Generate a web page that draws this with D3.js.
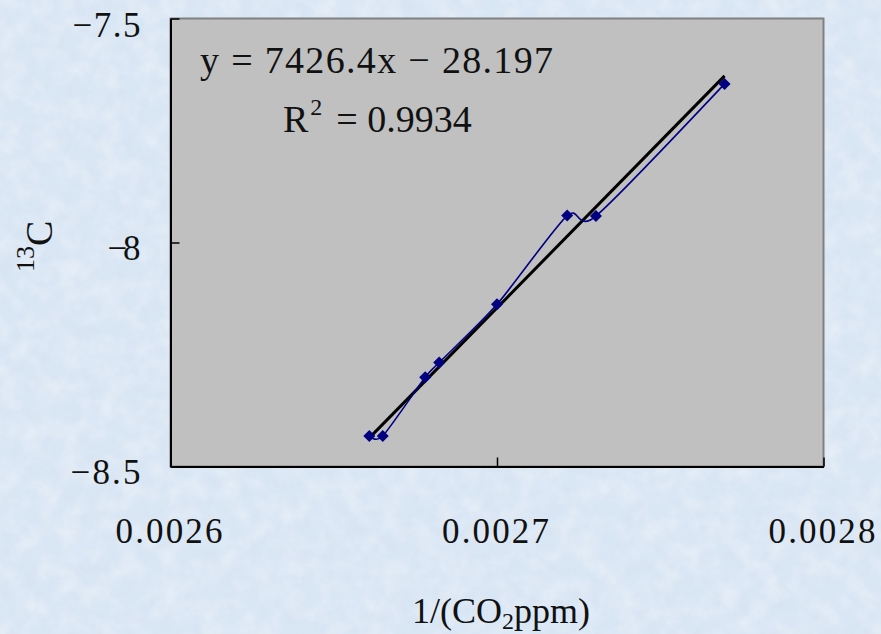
<!DOCTYPE html>
<html>
<head>
<meta charset="utf-8">
<script src="https://cdn.jsdelivr.net/npm/d3@7"></script>
<style>
  html, body { margin: 0; padding: 0; background: #d9e6f4; }
  svg { display: block; }
  text { font-family: "Liberation Serif", "DejaVu Serif", serif; fill: #111; }
</style>
</head>
<body>
<script>
// Measurements: inverse CO2 concentration vs. carbon-13 value
const xValues = [0.0026609, 0.0026650, 0.0026780, 0.0026823, 0.0027000, 0.0027215, 0.0027303, 0.0027697];
const yValues = [-8.432, -8.432, -8.301, -8.268, -8.138, -7.940, -7.941, -7.646];

// Axis ticks and their printed labels
const xTicks = [0.0026, 0.0027, 0.0028];
const xTickLabels = ["0.0026", "0.0027", "0.0028"];
const yTicks = [-7.5, -8, -8.5];
const yTickLabels = ["\u22127.5", "\u22128", "\u22128.5"];

// Linear fit reported on the chart
const fitSlope = 7426.4;
const fitIntercept = -28.197;
const rSquared = 0.9934;

const W = 881, H = 634;
const plot = { left: 170.5, right: 823.5, top: 18.5, bottom: 466.5 };

const svg = d3.select("body").append("svg")
  .attr("width", W).attr("height", H);

// Mottled light-blue backdrop
const defs = svg.append("defs");
const f1 = defs.append("filter").attr("id", "mottleLight")
  .attr("x", 0).attr("y", 0).attr("width", "100%").attr("height", "100%");
f1.append("feTurbulence").attr("type", "fractalNoise")
  .attr("baseFrequency", 0.05).attr("numOctaves", 3).attr("seed", 7);
f1.append("feColorMatrix").attr("type", "matrix")
  .attr("values", "0 0 0 0 1  0 0 0 0 1  0 0 0 0 1  1.4 0 0 0 -0.5");
const f2 = defs.append("filter").attr("id", "mottleDark")
  .attr("x", 0).attr("y", 0).attr("width", "100%").attr("height", "100%");
f2.append("feTurbulence").attr("type", "fractalNoise")
  .attr("baseFrequency", 0.08).attr("numOctaves", 2).attr("seed", 21);
f2.append("feColorMatrix").attr("type", "matrix")
  .attr("values", "0 0 0 0 0.66  0 0 0 0 0.72  0 0 0 0 0.82  1.4 0 0 0 -0.6");

svg.append("rect").attr("width", W).attr("height", H).attr("fill", "#d9e6f4");
svg.append("rect").attr("width", W).attr("height", H).attr("filter", "url(#mottleLight)").attr("opacity", 0.45);
svg.append("rect").attr("width", W).attr("height", H).attr("filter", "url(#mottleDark)").attr("opacity", 0.35);

const x = d3.scaleLinear().domain([0.0026, 0.0028]).range([plot.left, plot.right]);
const y = d3.scaleLinear().domain([-8.5, -7.5]).range([plot.bottom, plot.top]);

// Plot area
svg.append("rect")
  .attr("x", plot.left).attr("y", plot.top)
  .attr("width", plot.right - plot.left).attr("height", plot.bottom - plot.top)
  .attr("fill", "#c0c0c0").attr("stroke", "#808080").attr("stroke-width", 2);

// Axes with inward ticks
const xAxis = svg.append("g")
  .attr("transform", `translate(0,${plot.bottom})`)
  .call(d3.axisBottom(x).tickValues(xTicks).tickSizeInner(-9).tickSizeOuter(0)
    .tickFormat((d, i) => xTickLabels[i]));
const yAxis = svg.append("g")
  .attr("transform", `translate(${plot.left},0)`)
  .call(d3.axisLeft(y).tickValues(yTicks).tickSizeInner(-9).tickSizeOuter(0)
    .tickFormat((d, i) => yTickLabels[i]));

[xAxis, yAxis].forEach(g => {
  g.select(".domain").attr("stroke", "#000").attr("stroke-width", 2);
  g.selectAll(".tick line").attr("stroke", "#000").attr("stroke-width", 1.5);
});

xAxis.selectAll(".tick text")
  .attr("y", 76).attr("dy", null)
  .attr("font-size", 35).attr("fill", "#111")
  .attr("text-anchor", "middle")
  .attr("textLength", 107).attr("lengthAdjust", "spacing")
  .attr("x", -2);

const yLabelLen = [68, 33, 70];
const yLabelBase = [18, 16.5, 16.5];
yAxis.selectAll(".tick text")
  .attr("x", -30).attr("dy", null)
  .attr("y", (d, i) => yLabelBase[i])
  .attr("font-size", 35).attr("fill", "#111")
  .attr("text-anchor", "end")
  .attr("textLength", (d, i) => yLabelLen[i]).attr("lengthAdjust", "spacing");

// Fitted straight line across the data range
const xExt = d3.extent(xValues);
svg.append("line")
  .attr("x1", x(xExt[0])).attr("y1", y(fitSlope * xExt[0] + fitIntercept))
  .attr("x2", x(xExt[1])).attr("y2", y(fitSlope * xExt[1] + fitIntercept))
  .attr("stroke", "#000").attr("stroke-width", 3);

// Smoothed connecting line through the measurements
const pts = xValues.map((v, i) => [v, yValues[i]]);
svg.append("path")
  .datum(pts)
  .attr("d", d3.line().x(d => x(d[0])).y(d => y(d[1])).curve(d3.curveCardinal.tension(0.25)))
  .attr("fill", "none").attr("stroke", "#000080").attr("stroke-width", 1.6);

// Diamond markers
svg.append("g").selectAll("path")
  .data(pts).join("path")
  .attr("transform", d => `translate(${x(d[0])},${y(d[1])}) rotate(45)`)
  .attr("d", d3.symbol().type(d3.symbolSquare).size(72))
  .attr("fill", "#000080");

// Fit equation and coefficient of determination
svg.append("text")
  .attr("x", 200).attr("y", 73).attr("font-size", 38)
  .attr("textLength", 353).attr("lengthAdjust", "spacing")
  .text(`y = ${fitSlope}x \u2212 ${Math.abs(fitIntercept)}`);

const r2 = svg.append("text")
  .attr("x", 283).attr("y", 132).attr("font-size", 38);
r2.append("tspan").text("R");
r2.append("tspan").attr("font-size", 24).attr("dy", -17).attr("dx", 2).text("2");
r2.append("tspan").attr("dy", 17).attr("dx", 14).text(`= ${rSquared}`);

// Axis titles
const xt = svg.append("text")
  .attr("x", 412).attr("y", 623).attr("font-size", 36);
xt.append("tspan").text("1/(CO");
xt.append("tspan").attr("font-size", 24).attr("dy", 6).text("2");
xt.append("tspan").attr("dy", -6).text("ppm)");

const yt = svg.append("text")
  .attr("transform", "translate(52,272) rotate(-90)")
  .attr("font-size", 38);
yt.append("tspan").attr("font-size", 26).attr("dy", -18).text("13");
yt.append("tspan").attr("dy", 18).text("C");
</script>
</body>
</html>
